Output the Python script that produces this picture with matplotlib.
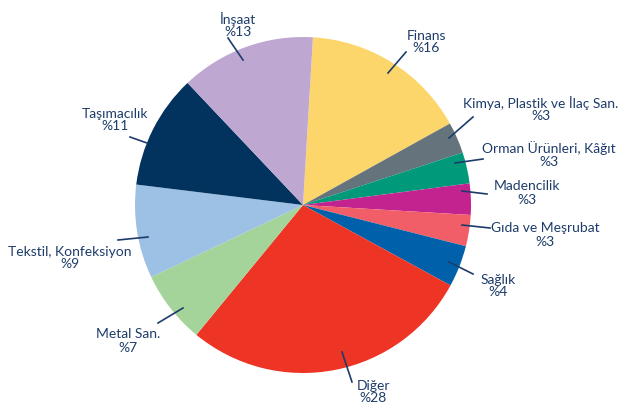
import matplotlib.pyplot as plt

# Sector shares (%), clockwise from the top
sectors = ['Finans', 'Kimya, Plastik ve İlaç San.', 'Orman Ürünleri, Kâğıt',
           'Madencilik', 'Gıda ve Meşrubat', 'Sağlık', 'Diğer', 'Metal San.',
           'Tekstil, Konfeksiyon', 'Taşımacılık', 'İnşaat']
shares = [16, 3, 3, 3, 3, 4, 28, 7, 9, 11, 13]
colors = ['#FDD66B', '#65737C', '#00997A', '#C2238F', '#F15E67', '#0061AA',
          '#EE3424', '#A4D49A', '#9DC0E5', '#02335F', '#BEA8D2']

# label text centre, leader line ends (pixel coords, y down)
label_pos = [(426, 42), (541, 109), (549, 155), (527, 193), (545, 235), (498, 286),
             (373, 392), (128, 341), (70, 258), (115, 120), (238, 25)]
line_out = [(406, 52), (473, 117), (483, 159), (487, 194), (490, 228), (473, 274),
            (352, 382), (158, 323), (118, 240), (130, 137), (228, 38)]
line_in = [(388, 73), (449, 138), (455, 163), (462, 191), (462, 225), (449, 262),
           (342, 352), (183, 308), (148, 237), (147, 143), (243, 60)]

W, H = 622, 409
cx, cy, r = 303, H - 205, 168
txt_col = '#1D3C6A'

fig = plt.figure(figsize=(W / 100, H / 100), dpi=100)
ax = fig.add_axes([0, 0, 1, 1])

ax.pie(shares, colors=colors, startangle=86.6, counterclock=False,
       center=(cx, cy), radius=r, wedgeprops=dict(linewidth=0))
ax.set_xlim(0, W)
ax.set_ylim(0, H)
ax.set_aspect('equal')
ax.axis('off')

for name, val, (lx, ly), (ox, oy), (ix, iy) in zip(sectors, shares, label_pos, line_out, line_in):
    ax.plot([ix, ox], [H - iy, H - oy], color=txt_col, lw=1.2)
    ax.text(lx, H - ly, f'{name}\n%{val}', ha='center', va='center',
            fontsize=10, family='Lato', color=txt_col, linespacing=1.1)

plt.savefig('out.png', dpi=100)
